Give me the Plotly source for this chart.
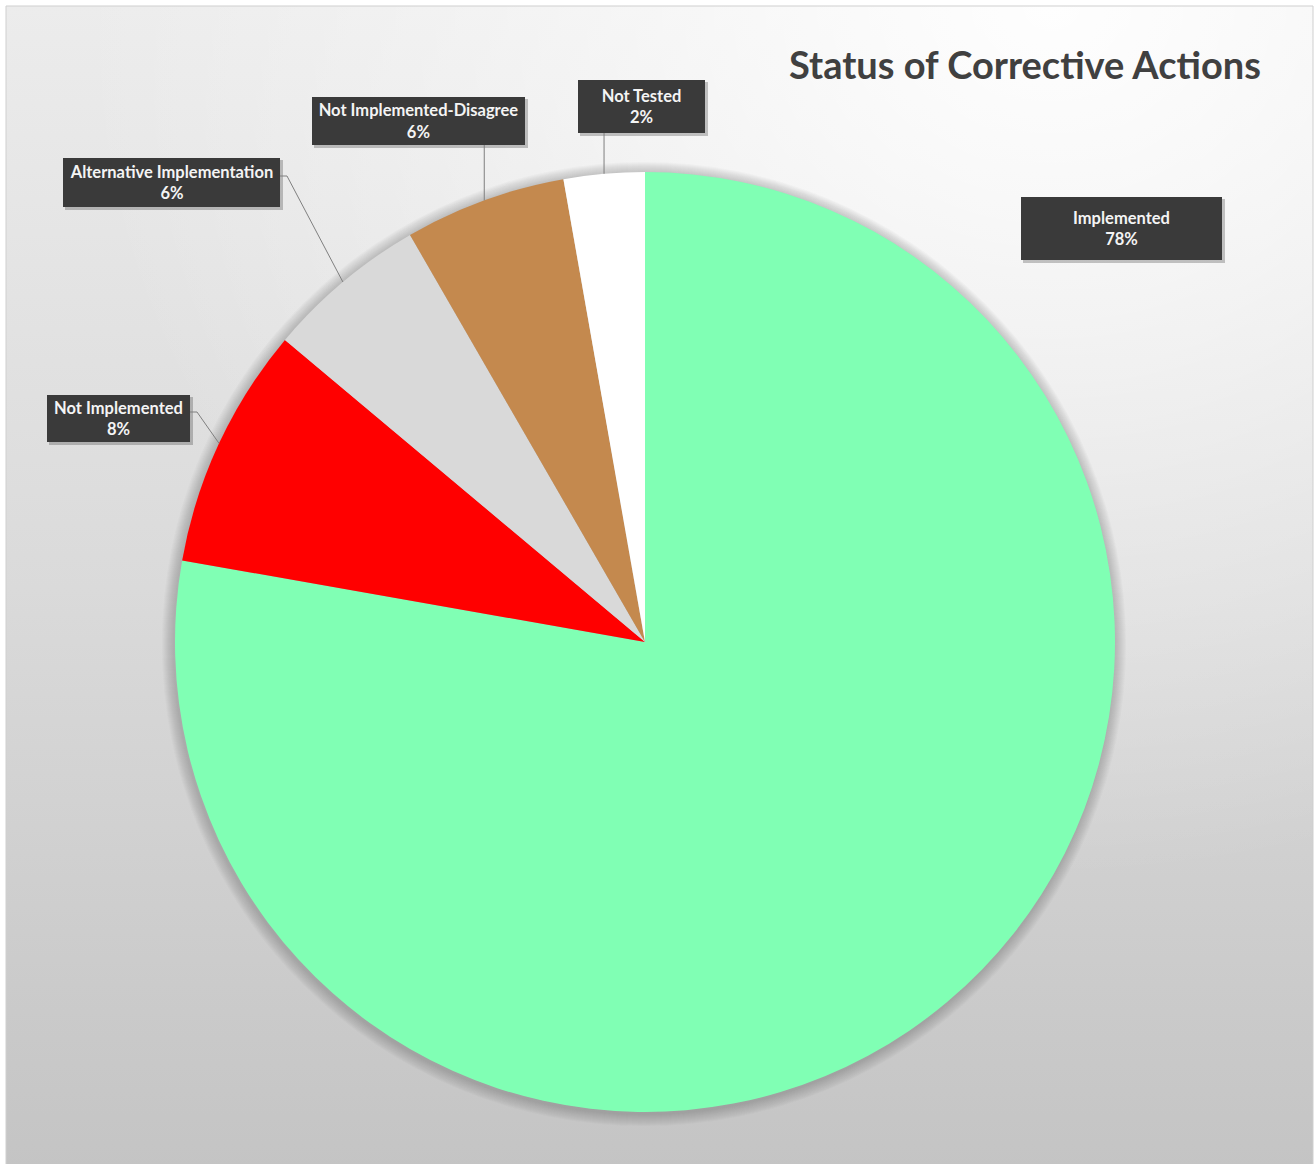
import math
import base64
import plotly.graph_objects as go

# ---- data ----
categories = ["Implemented", "Not Implemented", "Alternative Implementation",
              "Not Implemented-Disagree", "Not Tested"]
counts = [28, 3, 2, 2, 1]
pct_labels = ["78%", "8%", "6%", "6%", "2%"]
slice_colors = ["#80FFB4", "#FF0000", "#D9D9D9", "#C4894E", "#FFFFFF"]
title_text = "Status of Corrective Actions"

# ---- layout geometry (pixels) ----
W, H = 1315, 1164
CX, CY, R = 645, 642, 470

def px(x):
    return x / W

def py(y):
    return 1 - y / H

# label boxes: center x, center y, width, height ; leader line start
boxes = {
    "Implemented": dict(c=(1121.5, 228.5), w=201, h=63, lead=None),
    "Not Implemented": dict(c=(118.5, 418.5), w=143, h=47, lead=[(190, 412), (197, 412)]),
    "Alternative Implementation": dict(c=(171.5, 182.5), w=217, h=49, lead=[(280, 176), (287, 176)]),
    "Not Implemented-Disagree": dict(c=(418.5, 121), w=213, h=48, lead="below"),
    "Not Tested": dict(c=(641.5, 106.5), w=127, h=53, lead="below"),
}

# background gradient as svg image
svg = f'''<svg xmlns="http://www.w3.org/2000/svg" width="{W}" height="{H}" viewBox="0 0 {W} {H}" preserveAspectRatio="none">
<defs>
<linearGradient id="lg" x1="0" y1="0" x2="0" y2="1">
<stop offset="0" stop-color="#ececec"/>
<stop offset="0.5" stop-color="#dadada"/>
<stop offset="1" stop-color="#c4c4c4"/>
</linearGradient>
<radialGradient id="rg" cx="0.8" cy="0.0" r="0.75" gradientUnits="objectBoundingBox">
<stop offset="0" stop-color="#ffffff" stop-opacity="0.95"/>
<stop offset="0.6" stop-color="#ffffff" stop-opacity="0.35"/>
<stop offset="1" stop-color="#ffffff" stop-opacity="0"/>
</radialGradient>
</defs>
<rect width="{W}" height="{H}" fill="url(#lg)"/>
<rect width="{W}" height="{H}" fill="url(#rg)"/>
</svg>'''
bg_uri = "data:image/svg+xml;base64," + base64.b64encode(svg.encode()).decode()

fig = go.Figure()
fig.add_trace(go.Pie(
    labels=categories,
    values=counts,
    sort=False,
    direction="clockwise",
    rotation=0,
    marker=dict(colors=slice_colors, line=dict(width=0)),
    textinfo="none",
    hoverinfo="label+percent",
    showlegend=False,
    domain=dict(x=[px(CX - R), px(CX + R)], y=[py(CY + R), py(CY - R)]),
))

shapes = []
# border of chart area
shapes.append(dict(type="rect", xref="paper", yref="paper",
                   x0=px(6), x1=px(1313), y0=py(1170), y1=py(6),
                   line=dict(color="#cfcfcf", width=1), fillcolor="rgba(0,0,0,0)", layer="below"))
# soft pie shadow
for i in range(12, 0, -1):
    r = R + i
    shapes.append(dict(type="circle", xref="paper", yref="paper",
                       x0=px(CX - r - 1), x1=px(CX + r - 1), y0=py(CY + r + 2), y1=py(CY - r + 2),
                       line=dict(width=0), fillcolor="rgba(110,110,110,0.03)", layer="below"))

annotations = []
total = sum(counts)
cum = 0
for cat, v, pct in zip(categories, counts, pct_labels):
    mid = (cum + v / 2) / total * 2 * math.pi
    cum += v
    ex = CX + R * math.sin(mid)
    ey = CY - R * math.cos(mid)
    b = boxes[cat]
    bx, by = b["c"]
    # box shadow
    shapes.append(dict(type="rect", xref="paper", yref="paper",
                       x0=px(bx - b["w"] / 2 + 2), x1=px(bx + b["w"] / 2 + 3),
                       y0=py(by + b["h"] / 2 + 3), y1=py(by - b["h"] / 2 + 2),
                       line=dict(width=0), fillcolor="rgba(0,0,0,0.22)"))
    # leader line
    lead = b["lead"]
    pts = None
    if lead == "below":
        pts = [(ex, by + b["h"] / 2), (ex, ey)]
    elif lead:
        pts = list(lead) + [(ex, ey)]
    if pts:
        path = "M " + " L ".join(f"{px(x)},{py(y)}" for x, y in pts)
        shapes.append(dict(type="path", xref="paper", yref="paper", path=path,
                           line=dict(color="#7f7f7f", width=1)))
    annotations.append(dict(
        xref="paper", yref="paper", x=px(bx), y=py(by), xanchor="center", yanchor="middle",
        text=f"<b>{cat}</b><br><b>{pct}</b>", showarrow=False,
        width=b["w"], height=b["h"], align="center", valign="middle",
        bgcolor="#3a3a3a", borderpad=0, borderwidth=0,
        font=dict(family="Lato, Open Sans, sans-serif", size=16.5, color="#f4f4f4"),
    ))

annotations.append(dict(
    xref="paper", yref="paper", x=px(1263), y=py(64), xanchor="right", yanchor="middle",
    text=f"<b>{title_text}</b>", showarrow=False,
    font=dict(family="Lato, Open Sans, sans-serif", size=38, color="#404040"),
))

fig.update_layout(
    width=W, height=H,
    margin=dict(l=0, r=0, t=0, b=0),
    paper_bgcolor="#ffffff",
    plot_bgcolor="rgba(0,0,0,0)",
    images=[dict(source=bg_uri, xref="paper", yref="paper", x=px(6), y=py(6),
                 sizex=px(1313) - px(6), sizey=py(6) - py(1170), xanchor="left", yanchor="top",
                 sizing="stretch", layer="below")],
    shapes=shapes,
    annotations=annotations,
)

fig.write_html("out.html")
